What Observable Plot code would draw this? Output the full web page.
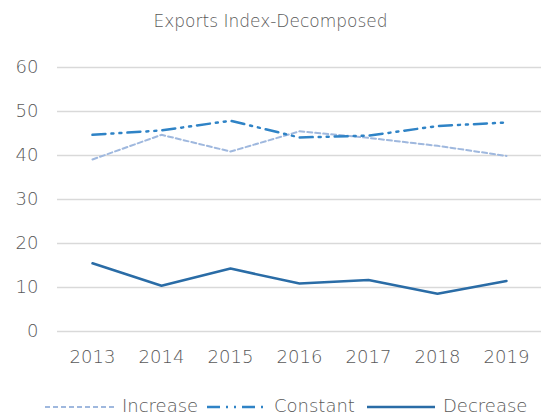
<!DOCTYPE html>
<html><head><meta charset="utf-8">
<script src="https://cdn.jsdelivr.net/npm/d3@7"></script>
<script src="https://cdn.jsdelivr.net/npm/@observablehq/plot@0.6"></script>
<style>
body{margin:0;background:#fff;font-family:"DejaVu Sans",sans-serif;font-weight:200;color:#595959;}
#title{height:40px;line-height:42px;text-align:center;font-size:17px;color:#595959;}
#legend{position:relative;height:39px;font-size:18px;}
#legend .line{position:absolute;top:24px;}
#legend .label{position:absolute;top:15px;white-space:nowrap;}
</style></head>
<body>
<div id="title">Exports Index-Decomposed</div>
<div id="chart"></div>
<div id="legend"></div>
<script>
const years = ["2013","2014","2015","2016","2017","2018","2019"];
const increase = [39.1, 44.7, 40.9, 45.5, 44.0, 42.2, 39.9];
const constant = [44.7, 45.7, 47.9, 44.1, 44.5, 46.7, 47.5];
const decrease = [15.5, 10.4, 14.3, 10.9, 11.7, 8.6, 11.5];
const yTicks = [0, 10, 20, 30, 40, 50, 60];
const seriesNames = ["Increase", "Constant", "Decrease"];

const styles = {
  Increase: {stroke: "#9fb8de", dash: "5,3", width: 2},
  Constant: {stroke: "#2f83c6", dash: "13,6,2,6,2,6", width: 2.5},
  Decrease: {stroke: "#2a6ca6", dash: null, width: 2.5}
};
const rows = [];
[increase, constant, decrease].forEach((arr, i) => arr.forEach((v, j) => rows.push({series: seriesNames[i], year: years[j], value: v})));

const marks = [
  Plot.ruleY(yTicks, {stroke: "#d9d9d9", strokeWidth: 1.5})
];
for (const s of seriesNames) {
  const st = styles[s];
  marks.push(Plot.line(rows.filter(d => d.series === s), {
    x: "year", y: "value", stroke: st.stroke, strokeWidth: st.width,
    strokeDasharray: st.dash, curve: "linear"
  }));
}

const chart = Plot.plot({
  width: 541, height: 340,
  marginTop: 27, marginBottom: 49, marginLeft: 57, marginRight: 0,
  style: {fontFamily: "'DejaVu Sans', sans-serif", fontWeight: 200, fontSize: "18px", color: "#595959"},
  x: {type: "point", domain: years, padding: 0.5, label: null, tickSize: 0, tickPadding: 19},
  y: {domain: [0, 60], ticks: yTicks, label: null, tickSize: 0, tickPadding: 19},
  marks
});
document.getElementById("chart").appendChild(chart);

const legend = d3.select("#legend");
const linePos = [45, 207, 367];
const lens = [70, 58, 68];
const textPos = [122, 274, 443];
seriesNames.forEach((s, i) => {
  const st = styles[s];
  const sv = legend.append("svg").attr("class", "line").style("left", linePos[i] + "px")
    .attr("width", lens[i]).attr("height", 6);
  sv.append("line").attr("x1", 0).attr("x2", lens[i]).attr("y1", 3).attr("y2", 3)
    .attr("stroke", st.stroke).attr("stroke-width", st.width)
    .attr("stroke-dasharray", st.dash);
  legend.append("span").attr("class", "label").style("left", textPos[i] + "px").text(s);
});
</script>
</body></html>
